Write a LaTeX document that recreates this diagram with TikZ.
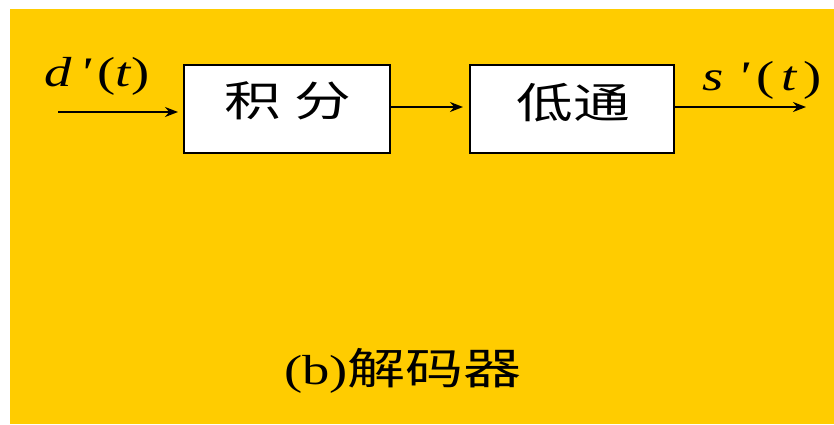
\documentclass[tikz,border=0pt]{standalone}
\usepackage{fontspec}
\usetikzlibrary{arrows.meta}
\newfontfamily\cjk[FakeStretch=1.35]{Noto Sans CJK SC}
\newfontfamily\lat[FakeStretch=1.3]{Liberation Serif}
\definecolor{bgyellow}{HTML}{FFCC00}
\tikzset{
  blockbox/.style={draw=black, line width=2pt, fill=white, minimum width=206pt, minimum height=88pt, inner sep=0pt},
  blocktext/.style={font=\cjk\fontsize{42}{42}\selectfont},
  sig/.style={line width=1.8pt, -{Stealth[length=13pt,width=10pt]}},
  lbl/.style={font=\lat\itshape\fontsize{42}{42}\selectfont, inner sep=0pt}
}
\begin{document}
\begin{tikzpicture}[x=1pt,y=-1pt]
\useasboundingbox (0,0) rectangle (834,424);
\fill[white] (0,0) rectangle (834,424);
\fill[bgyellow] (10,9) rectangle (834,424);
\node[blockbox] (int) at (287,109) {};
\node[blocktext] (intt) at (288,101) {积\,\,分};
\node[blockbox, minimum width=204pt] (lp) at (572,109) {};
\node[blocktext] (lpt) at (573,103) {低通};
\coordinate (in) at (58,112);
\coordinate (out) at (806,107);
\draw[sig] (in) -- ([xshift=-5pt]int.west |- in);
\draw[sig] (int.east |- 0,107) -- ([xshift=-6pt]lp.west |- 0,107);
\draw[sig] (lp.east |- out) -- (out);
\node[lbl] (din) at (97,76) {d\,'\,{\upshape(}t{\upshape)}};
\node[lbl] (sout) at (762,80) {s\,\,'\,{\upshape(}\,t\,{\upshape)}};
\node[inner sep=0pt] (cap) at (403,371) {{\lat\fontsize{42}{42}\selectfont (b)}{\cjk\fontsize{43}{43}\selectfont 解码器}};
\end{tikzpicture}
\end{document}
